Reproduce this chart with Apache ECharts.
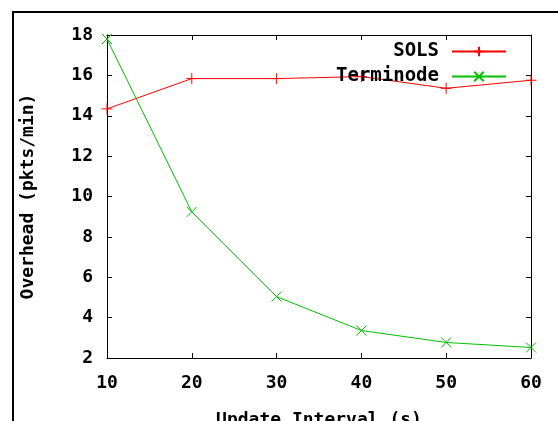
<!DOCTYPE html>
<html>
<head>
<meta charset="utf-8">
<script src="https://cdn.jsdelivr.net/npm/echarts@6/dist/echarts.min.js"></script>
<style>
  html, body { margin: 0; padding: 0; background: #fff; }
  #chart { width: 558px; height: 421px; }
</style>
</head>
<body>
<div id="chart"></div>
<script>
// update interval (s)
const intervals = [10, 20, 30, 40, 50, 60]
// overhead (pkts/min)
const solsValues = [14.34, 15.84, 15.84, 15.94, 15.36, 15.76]
const terminodeValues = [17.8, 9.24, 5.04, 3.36, 2.77, 2.52]

const font = 'DejaVu Sans Mono'
const plusIcon = 'path://M0,5L10,5M5,0L5,10'
const crossIcon = 'path://M0,0L10,10M10,0L0,10'

function pairs(ys) {
  return intervals.map((x, i) => [x, ys[i]])
}

function axisBase() {
  return {
    type: 'value',
    axisLine: { show: true, lineStyle: { color: '#000', width: 1 } },
    axisTick: { show: true, inside: true, length: 5, lineStyle: { color: '#000' } },
    splitLine: { show: false }
  }
}

const chart = echarts.init(document.getElementById('chart'))

chart.setOption({
  animation: false,
  backgroundColor: '#fff',
  graphic: [{
    type: 'rect',
    shape: { x: 13, y: 12, width: 700, height: 600 },
    style: { fill: 'none', stroke: '#000', lineWidth: 2 },
    silent: true
  }],
  grid: { left: 107, right: 27, top: 35, bottom: 63, outerBoundsMode: 'none', containLabel: false },
  legend: {
    orient: 'vertical',
    right: 51,
    top: 42,
    padding: 0,
    align: 'right',
    itemWidth: 54,
    itemHeight: 12,
    itemGap: 6,
    textStyle: { fontFamily: font, fontWeight: 'bold', fontSize: 19, color: '#000', padding: [0, 8, 0, 0] },
    data: ['SOLS', 'Terminode']
  },
  xAxis: [
    Object.assign(axisBase(), {
      min: 10, max: 60, interval: 10,
      name: 'Update Interval (s)',
      nameLocation: 'middle',
      nameGap: 53,
      nameMoveOverlap: false,
      nameTextStyle: { fontFamily: font, fontWeight: 'bold', fontSize: 18, color: '#000' },
      axisLabel: { margin: 16, fontFamily: font, fontWeight: 'bold', fontSize: 18, color: '#000' }
    }),
    Object.assign(axisBase(), {
      position: 'top', min: 10, max: 60, interval: 10,
      axisLabel: { show: false }
    })
  ],
  yAxis: [
    Object.assign(axisBase(), {
      min: 2, max: 18, interval: 2,
      name: 'Overhead (pkts/min)',
      nameLocation: 'middle',
      nameGap: 70,
      nameMoveOverlap: false,
      nameTextStyle: { fontFamily: font, fontWeight: 'bold', fontSize: 18, color: '#000' },
      axisLabel: { margin: 14, fontFamily: font, fontWeight: 'bold', fontSize: 18, color: '#000' }
    }),
    Object.assign(axisBase(), {
      position: 'right', min: 2, max: 18, interval: 2,
      axisLabel: { show: false }
    })
  ],
  series: [
    {
      name: 'SOLS',
      type: 'line',
      data: pairs(solsValues),
      symbol: plusIcon,
      symbolSize: 11,
      lineStyle: { color: '#ff0000', width: 1 },
      itemStyle: { color: 'none', borderColor: '#ff0000', borderWidth: 1 }
    },
    {
      name: 'Terminode',
      type: 'line',
      data: pairs(terminodeValues),
      symbol: crossIcon,
      symbolSize: 10,
      lineStyle: { color: '#00c000', width: 1 },
      itemStyle: { color: 'none', borderColor: '#00c000', borderWidth: 1 }
    }
  ]
})
</script>
</body>
</html>
